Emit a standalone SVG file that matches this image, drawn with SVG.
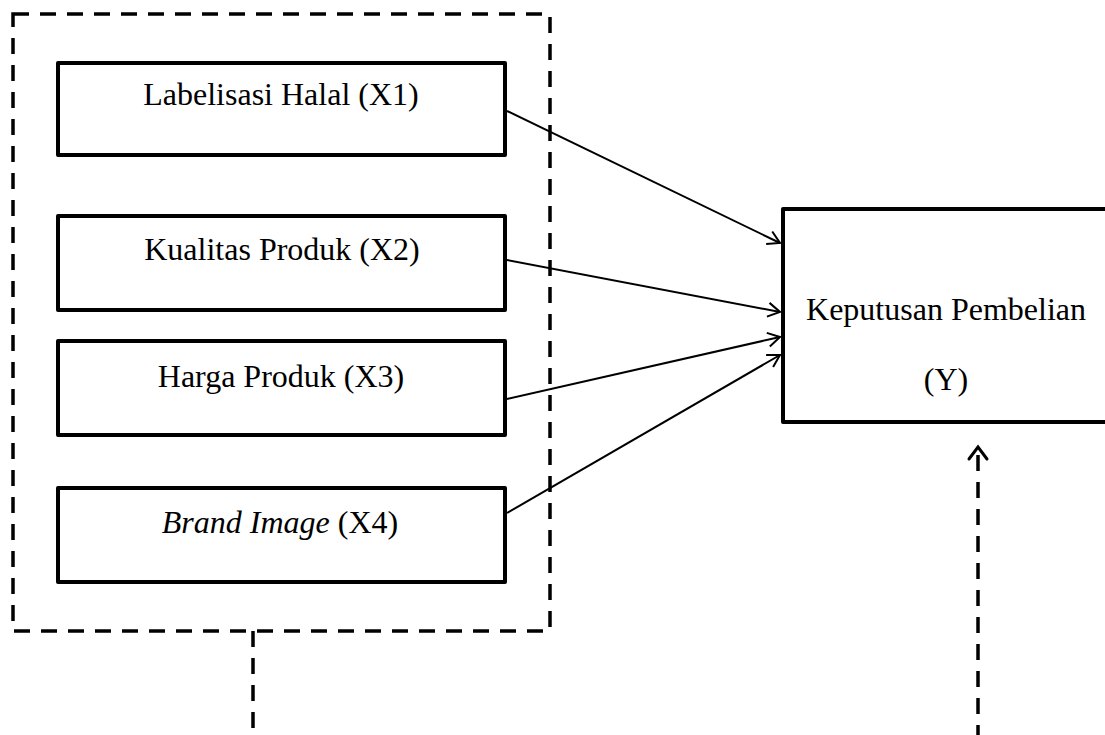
<svg xmlns="http://www.w3.org/2000/svg" width="1105" height="735" viewBox="0 0 1105 735">
<defs>
<style>
.box{fill:#fff;stroke:#000;stroke-width:4;stroke-linejoin:round}
.dash{fill:none;stroke:#000;stroke-width:3.5;stroke-dasharray:16 11}
.conn{fill:none;stroke:#000;stroke-width:2}
.t{font-size:32px;fill:#000;text-anchor:middle}
</style>
<marker id="ah" viewBox="0 0 20 20" refX="18" refY="10" markerWidth="20" markerHeight="20" markerUnits="userSpaceOnUse" orient="auto">
<path d="M6,3 L18,10 L6,17" fill="none" stroke="#000" stroke-width="2"/>
</marker>
<marker id="ah2" viewBox="0 0 24 24" refX="20" refY="12" markerWidth="24" markerHeight="24" markerUnits="userSpaceOnUse" orient="auto">
<path d="M8,3 L20,12 L8,21" fill="none" stroke="#000" stroke-width="3" stroke-linecap="round"/>
</marker>
</defs>
<rect width="1105" height="735" fill="#fff"/>
<g id="group-x">
<rect class="dash" x="13" y="14" width="537" height="617"/>
</g>
<g font-family="Liberation Serif, Times New Roman, serif">
<g id="x1"><rect class="box" x="58" y="63" width="447" height="92"/><text class="t" x="281" y="105">Labelisasi Halal (X1)</text></g>
<g id="x2"><rect class="box" x="58" y="216" width="447" height="94"/><text class="t" x="282" y="260">Kualitas Produk (X2)</text></g>
<g id="x3"><rect class="box" x="58" y="341" width="447" height="94"/><text class="t" x="281" y="387">Harga Produk (X3)</text></g>
<g id="x4"><rect class="box" x="58" y="488" width="447" height="94"/><text class="t" x="280" y="533"><tspan font-style="italic">Brand Image</tspan> (X4)</text></g>
<g id="y"><rect class="box" x="783" y="209" width="330" height="213"/><text class="t" x="946" y="320">Keputusan Pembelian</text><text class="t" x="946" y="390">(Y)</text></g>
</g>
<g id="connectors">
<line class="conn" x1="507" y1="111" x2="780" y2="243" marker-end="url(#ah)"/>
<line class="conn" x1="507" y1="260" x2="780" y2="312" marker-end="url(#ah)"/>
<line class="conn" x1="507" y1="399" x2="780" y2="337" marker-end="url(#ah)"/>
<line class="conn" x1="507" y1="513" x2="780" y2="355" marker-end="url(#ah)"/>
<line class="dash" x1="253" y1="631" x2="253" y2="735"/>
<line class="dash" x1="978" y1="735" x2="978" y2="447" stroke-dashoffset="6" marker-end="url(#ah2)"/>
</g>
</svg>
